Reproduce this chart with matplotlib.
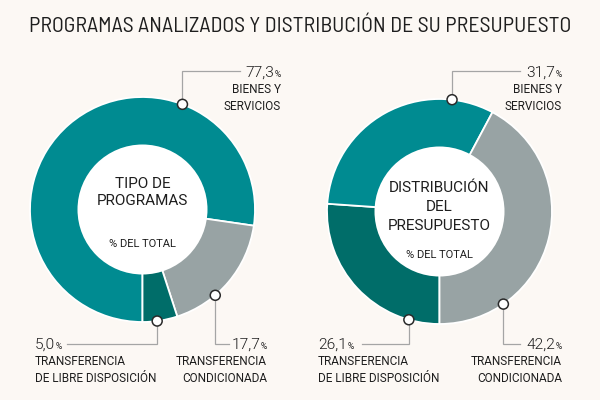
import matplotlib
matplotlib.use("Agg")
import numpy as np
import matplotlib.pyplot as plt
from matplotlib import font_manager as fm
from matplotlib.patches import Circle

W, H = 600, 400

# ── data ─────────────────────────────────────────────────────────────────────
TITLE = "PROGRAMAS ANALIZADOS Y DISTRIBUCIÓN DE SU PRESUPUESTO"
CATEGORIES = ["BIENES Y\nSERVICIOS",
              "TRANSFERENCIA\nCONDICIONADA",
              "TRANSFERENCIA\nDE LIBRE DISPOSICIÓN"]
TIPO_VALUES = [77.3, 17.7, 5.0]       # % del total, tipo de programas
PRESUP_VALUES = [31.7, 42.2, 26.1]    # % del total, distribución del presupuesto
CENTER_TITLES = ["TIPO DE\nPROGRAMAS", "DISTRIBUCIÓN\nDEL\nPRESUPUESTO"]
CENTER_SUB = "% DEL TOTAL"

COLORS = ["#008b91", "#98a3a4", "#006d69"]
BG = "#fcf8f4"
INK = "#1e1e1e"
LEADER = "#a5a5a5"


def pick_font(cands):
    names = {f.name for f in fm.fontManager.ttflist}
    for c in cands:
        if c in names:
            return c
    return "DejaVu Sans"


TITLE_FONT = pick_font(["Barlow Semi Condensed", "Roboto Condensed", "DejaVu Sans"])
FONT = pick_font(["Roboto", "Barlow Semi Condensed", "DejaVu Sans"])

# ── layout (screen pixels, y measured from top) ──────────────────────────────
# each donut: centre, slice order clockwise from bottom, centre text baselines,
# and per category: marker angle, leader y, leader end x, text x, align, baseline
DONUTS = [
    dict(cx=142.5, cy=209.5, values=TIPO_VALUES, order=[0, 1, 2],
         title_y=[188, 205], sub_y=247,
         labels=[(69.2, 71, 240, 281, "right", 77),
                 (-49.7, 344, 229, 267, "right", 349),
                 (-82.5, 344, 67, 35, "left", 349)]),
    dict(cx=439.5, cy=211.5, values=PRESUP_VALUES, order=[2, 0, 1],
         title_y=[192, 211, 230], sub_y=258,
         labels=[(83.6, 71, 520, 562, "right", 77),
                 (-55.4, 344, 520, 562, "right", 349),
                 (254.2, 344, 362, 318, "left", 349)]),
]
R_OUT, R_IN = 112.5, 65

fig = plt.figure(figsize=(W / 100, H / 100), dpi=100, facecolor=BG)
ax = fig.add_axes([0, 0, 1, 1])
renderer = fig.canvas.get_renderer()


def Y(y):
    return H - y


def width(t):
    return t.get_window_extent(renderer).width


def text(x, y, s, size, ha="left", weight="normal", family=None, **kw):
    return ax.text(x, Y(y), s, fontsize=size, ha=ha, va="baseline",
                   family=family or FONT, weight=weight, color=INK, **kw)


def fit(s, target, weight="normal", family=None):
    t = text(0, 0, s, 10, weight=weight, family=family)
    size = 10 * target / width(t)
    t.remove()
    return size


# font sizes fitted to widths measured on the reference
S_LABEL = fit("DE LIBRE DISPOSICIÓN", 121)
S_NUM = fit("77,3", 29)
S_PCT = S_NUM * 0.55
S_CTITLE = fit("PROGRAMAS", 91)
S_SUB = fit("% DEL TOTAL", 67)

for idx, d in enumerate(DONUTS):
    cx, cy = d["cx"], Y(d["cy"])
    vals = [d["values"][i] for i in d["order"]]
    cols = [COLORS[i] for i in d["order"]]
    ax.pie(vals, colors=cols, startangle=-90, counterclock=False,
           center=(cx, cy), radius=R_OUT,
           wedgeprops=dict(edgecolor="white", linewidth=1.3))
    ax.add_patch(Circle((cx, cy), R_IN, facecolor="white", edgecolor="none", zorder=3))

    # centre text
    for line, yb in zip(CENTER_TITLES[idx].split("\n"), d["title_y"]):
        text(d["cx"], yb, line, S_CTITLE, ha="center", zorder=4)
    text(d["cx"], d["sub_y"], CENTER_SUB, S_SUB, ha="center", zorder=4)

    # leaders, markers and labels
    for cat, (ang, ly, lx_end, tx, ha, yb) in enumerate(d["labels"]):
        a = np.radians(ang)
        mx, my = cx + R_OUT * np.cos(a), cy + R_OUT * np.sin(a)
        ax.plot([mx, mx, lx_end], [my, Y(ly), Y(ly)], color=LEADER, lw=0.9, zorder=2,
                solid_joinstyle="miter")
        ax.add_patch(Circle((mx, my), 5, facecolor="white", edgecolor="#2a2a2a",
                            lw=1.1, zorder=6))

        num = f"{d['values'][cat]:.1f}".replace(".", ",")
        if ha == "right":
            p = text(tx, yb, "%", S_PCT, ha="right")
            text(tx - width(p) - 0.3, yb, num, S_NUM, ha="right", weight=300)
        else:
            n = text(tx, yb, num, S_NUM, ha="left", weight=300)
            text(tx + width(n) + 0.3, yb, "%", S_PCT, ha="left")
        for k, line in enumerate(CATEGORIES[cat].split("\n")):
            text(tx, yb + 16 + 16.5 * k, line, S_LABEL, ha=ha)

# title, fitted to the reference width
t = text(W / 2, 32, TITLE, 15, ha="center", weight="normal", family=TITLE_FONT)
t.set_fontsize(15 * 543 / width(t))

ax.set_xlim(0, W)
ax.set_ylim(0, H)
ax.set_aspect("equal")
ax.axis("off")
fig.savefig("out.png", dpi=100, facecolor=BG)
